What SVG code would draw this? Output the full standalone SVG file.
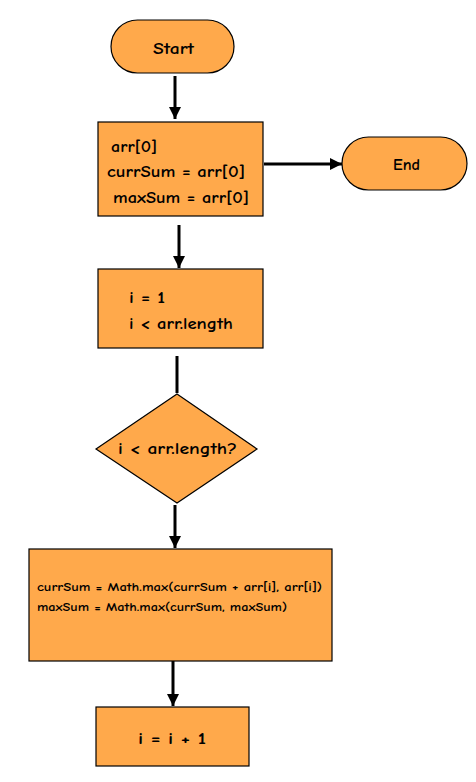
<svg xmlns="http://www.w3.org/2000/svg" width="476" height="782" viewBox="0 0 476 782">
<style>
.n{fill:#FFA94B;stroke:#000;stroke-width:1.2}
.t{font-family:"Comic Sans MS","Comic Neue","Liberation Sans",sans-serif;font-weight:bold;fill:#000}
.c{stroke:#000;stroke-width:3;fill:none}
</style>
<defs>
<marker id="ah" markerWidth="4" markerHeight="4" refX="4" refY="2" orient="auto" markerUnits="strokeWidth">
<path d="M0,0 L4,2 L0,4 Z" fill="#000"/>
</marker>
</defs>
<rect width="476" height="782" fill="#fff"/>
<g id="connectors">
<line class="c" x1="175" y1="76" x2="175" y2="119" marker-end="url(#ah)"/>
<line class="c" x1="264" y1="164" x2="342" y2="164" marker-end="url(#ah)"/>
<line class="c" x1="179" y1="225" x2="179" y2="268" marker-end="url(#ah)"/>
<line class="c" x1="177" y1="356" x2="177" y2="393"/>
<line class="c" x1="175" y1="505" x2="175" y2="548" marker-end="url(#ah)"/>
<line class="c" x1="173" y1="661" x2="173" y2="706" marker-end="url(#ah)"/>
</g>
<g id="start">
<rect class="n" x="111" y="20" width="123" height="53" rx="26.5"/>
<text class="t" x="153" y="54" font-size="15" textLength="41" lengthAdjust="spacingAndGlyphs">Start</text>
</g>
<g id="init">
<rect class="n" x="98" y="122" width="165" height="94"/>
<text class="t" x="111" y="152" font-size="15" textLength="46" lengthAdjust="spacingAndGlyphs">arr[0]</text>
<text class="t" x="107" y="177" font-size="15" textLength="138" lengthAdjust="spacingAndGlyphs">currSum = arr[0]</text>
<text class="t" x="113" y="203" font-size="15" textLength="136" lengthAdjust="spacingAndGlyphs">maxSum = arr[0]</text>
</g>
<g id="end">
<rect class="n" x="342" y="137" width="125" height="53" rx="26.5"/>
<text class="t" x="393" y="170" font-size="15" textLength="27" lengthAdjust="spacingAndGlyphs">End</text>
</g>
<g id="loopinit">
<rect class="n" x="98" y="269" width="165" height="79"/>
<text class="t" x="129" y="303" font-size="15" textLength="36" lengthAdjust="spacingAndGlyphs">i = 1</text>
<text class="t" x="129" y="329" font-size="15" textLength="104" lengthAdjust="spacingAndGlyphs">i &lt; arr.length</text>
</g>
<g id="cond">
<polygon class="n" points="177,394 257,449 177,503 96,449"/>
<text class="t" x="118" y="454" font-size="16" textLength="119" lengthAdjust="spacingAndGlyphs">i &lt; arr.length?</text>
</g>
<g id="body">
<rect class="n" x="29" y="549" width="303" height="112"/>
<text class="t" x="37" y="591" font-size="12" textLength="285" lengthAdjust="spacingAndGlyphs">currSum = Math.max(currSum + arr[i], arr[i])</text>
<text class="t" x="37" y="611" font-size="12" textLength="250" lengthAdjust="spacingAndGlyphs">maxSum = Math.max(currSum, maxSum)</text>
</g>
<g id="incr">
<rect class="n" x="96" y="707" width="153" height="59"/>
<text class="t" x="138" y="744" font-size="16" textLength="68" lengthAdjust="spacingAndGlyphs">i = i + 1</text>
</g>
</svg>
